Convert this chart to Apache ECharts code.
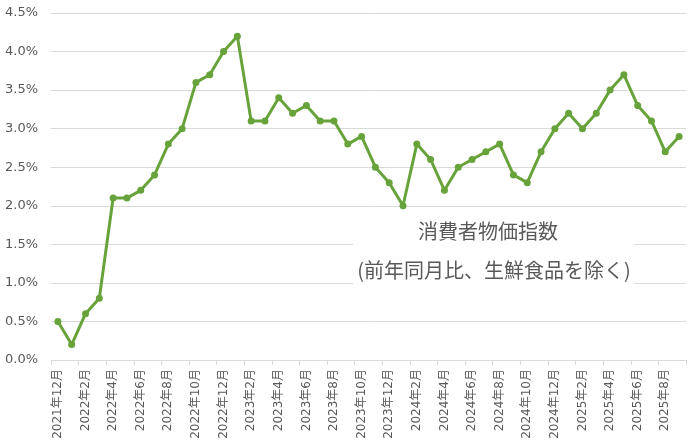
<!DOCTYPE html>
<html><head><meta charset="utf-8">
<script src="https://cdn.jsdelivr.net/npm/echarts@6/dist/echarts.min.js"></script>
<style>html,body{margin:0;padding:0;background:#fff}#c{width:694px;height:445px}</style>
</head><body><div id="c"></div>
<script>
const categories = [
'2021年12月','2022年1月','2022年2月','2022年3月','2022年4月','2022年5月','2022年6月','2022年7月','2022年8月','2022年9月','2022年10月','2022年11月','2022年12月',
'2023年1月','2023年2月','2023年3月','2023年4月','2023年5月','2023年6月','2023年7月','2023年8月','2023年9月','2023年10月','2023年11月','2023年12月',
'2024年1月','2024年2月','2024年3月','2024年4月','2024年5月','2024年6月','2024年7月','2024年8月','2024年9月','2024年10月','2024年11月','2024年12月',
'2025年1月','2025年2月','2025年3月','2025年4月','2025年5月','2025年6月','2025年7月','2025年8月','2025年9月'];
const cpiValues = [0.5,0.2,0.6,0.8,2.1,2.1,2.2,2.4,2.8,3.0,3.6,3.7,4.0,
4.2,3.1,3.1,3.4,3.2,3.3,3.1,3.1,2.8,2.9,2.5,2.3,
2.0,2.8,2.6,2.2,2.5,2.6,2.7,2.8,2.4,2.3,2.7,3.0,
3.2,3.0,3.2,3.5,3.7,3.3,3.1,2.7,2.9];
const titleLines = ['消費者物価指数','(前年同月比、生鮮食品を除く)'];

const font = '"DejaVu Sans","Noto Sans CJK JP",sans-serif';
const chart = echarts.init(document.getElementById('c'));
chart.setOption({
  animation:false,
  grid:{left:51,right:8,top:13,bottom:85,containLabel:false},
  xAxis:{type:'category',data:categories,boundaryGap:true,
    axisLine:{lineStyle:{color:'#d9d9d9',width:1}},
    axisTick:{show:true,interval:1,length:5,lineStyle:{color:'#d9d9d9'}},
    axisLabel:{interval:1,rotate:90,color:'#595959',fontSize:12,fontFamily:font,margin:9}},
  yAxis:{type:'value',min:0,max:4.5,interval:0.5,
    axisLine:{show:false},axisTick:{show:false},
    splitLine:{lineStyle:{color:'#d9d9d9',width:1}},
    axisLabel:{color:'#595959',fontSize:13,fontFamily:font,margin:13,
      formatter:v=>v.toFixed(1)+'%'}},
  series:[{type:'line',data:cpiValues,symbol:'circle',symbolSize:7,
    lineStyle:{color:'#67a33a',width:3},itemStyle:{color:'#67a33a'},z:3}],
  graphic:[
    {type:'rect',shape:{x:353,y:214,width:281,height:84},style:{fill:'#ffffff'},z:10},
    {type:'text',x:488,y:231,style:{text:titleLines[0],fill:'#595959',font:'20px "Noto Sans CJK JP",sans-serif',textAlign:'center',textVerticalAlign:'middle'},z:11},
    {type:'text',x:494,y:270,style:{text:titleLines[1],fill:'#595959',font:'20px "Noto Sans CJK JP",sans-serif',textAlign:'center',textVerticalAlign:'middle'},z:11}
  ]
});
</script></body></html>
